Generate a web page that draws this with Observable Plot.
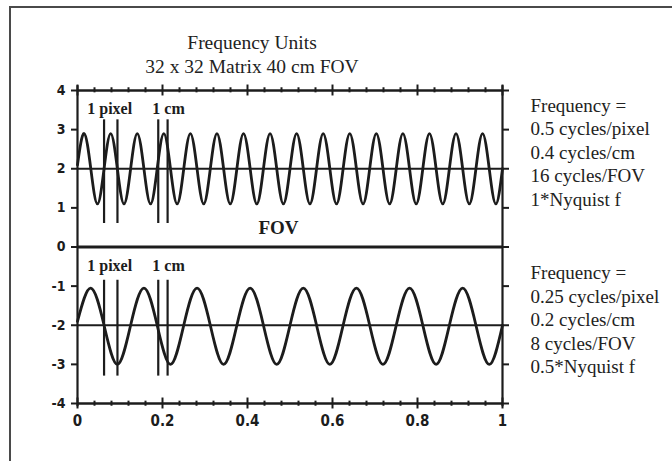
<!DOCTYPE html>
<html>
<head>
<meta charset="utf-8">
<script src="https://cdn.jsdelivr.net/npm/d3@7"></script>
<script src="https://cdn.jsdelivr.net/npm/@observablehq/plot@0.6"></script>
<style>
  html, body { margin: 0; padding: 0; background: #fff; overflow: hidden; }
  #wrap { position: relative; width: 672px; height: 461px; }
  #title { height: 80px; width: 504px; box-sizing: border-box; padding-top: 31px; text-align: center;
           font-family: "Liberation Serif", "Times New Roman", serif; font-size: 19.5px; line-height: 24px; color: #222; }
  #frame { position: absolute; left: 9px; top: 6px; width: 700px; height: 500px; border: 2px solid #4a4a4a; box-sizing: border-box; pointer-events: none; }
  #chart svg { display: block; overflow: visible; }
</style>
</head>
<body>
<div id="wrap">
  <div id="frame"></div>
  <div id="title">Frequency Units<br>32 x 32 Matrix 40 cm FOV</div>
  <div id="chart"></div>
</div>
<script>
// ---- data ----
const titleLines = ["Frequency Units", "32 x 32 Matrix 40 cm FOV"];

// upper signal (16 cycles/FOV), sampled at peaks, crossings and troughs
const upperX = [0, .0156, .0313, .0469, .0625, .0781, .0938, .1094, .125, .1406, .1563, .1719, .1875, .2031, .2188, .2344,
  .25, .2656, .2813, .2969, .3125, .3281, .3438, .3594, .375, .3906, .4063, .4219, .4375, .4531, .4688, .4844,
  .5, .5156, .5313, .5469, .5625, .5781, .5938, .6094, .625, .6406, .6563, .6719, .6875, .7031, .7188, .7344,
  .75, .7656, .7813, .7969, .8125, .8281, .8438, .8594, .875, .8906, .9063, .9219, .9375, .9531, .9688, .9844, 1];
const upperY = [2.1, 2.9, 2, 1.1, 2, 2.9, 2, 1.1, 2, 2.9, 2, 1.1, 2, 2.9, 2, 1.1,
  2, 2.9, 2, 1.1, 2, 2.9, 2, 1.1, 2, 2.9, 2, 1.1, 2, 2.9, 2, 1.1,
  2, 2.9, 2, 1.1, 2, 2.9, 2, 1.1, 2, 2.9, 2, 1.1, 2, 2.9, 2, 1.1,
  2, 2.9, 2, 1.1, 2, 2.9, 2, 1.1, 2, 2.9, 2, 1.1, 2, 2.9, 2, 1.1, 2];

// lower signal (8 cycles/FOV)
const lowerX = [0, .0313, .0625, .0938, .125, .1563, .1875, .2188, .25, .2813, .3125, .3438, .375, .4063, .4375, .4688,
  .5, .5313, .5625, .5938, .625, .6563, .6875, .7188, .75, .7813, .8125, .8438, .875, .9063, .9375, .9688, 1];
const lowerY = [-1.9, -1.05, -2, -3.0, -2, -1.05, -2, -3.0, -2, -1.05, -2, -3.0, -2, -1.05, -2, -3.0,
  -2, -1.05, -2, -3.0, -2, -1.05, -2, -3.0, -2, -1.05, -2, -3.0, -2, -1.05, -2, -3.0, -2];

// "1 pixel" and "1 cm" marker lines
const markerX = [0.0625, 0.094, 0.19, 0.212];
const markerLabels = ["1 pixel", "1 cm"];
const markerLabelX = [0.023, 0.176];

const upperLines = ["Frequency =", "0.5 cycles/pixel", "0.4 cycles/cm", "16 cycles/FOV", "1*Nyquist f"];
const lowerLines = ["Frequency =", "0.25 cycles/pixel", "0.2 cycles/cm", "8 cycles/FOV", "0.5*Nyquist f"];

const xTicks = [0, 0.2, 0.4, 0.6, 0.8, 1];
const xTickLabels = ["0", "0.2", "0.4", "0.6", "0.8", "1"];
const xMinor = [0.04, 0.08, 0.12, 0.16, 0.24, 0.28, 0.32, 0.36, 0.44, 0.48, 0.52, 0.56, 0.64, 0.68, 0.72, 0.76, 0.84, 0.88, 0.92, 0.96];
const yTicks = [-4, -3, -2, -1, 0, 1, 2, 3, 4];
const yTickLabels = ["-4", "-3", "-2", "-1", "0", "1", "2", "3", "4"];

// ---- build ----
const upper = upperX.map((x, i) => ({x, y: upperY[i]}));
const lower = lowerX.map((x, i) => ({x, y: lowerY[i]}));
const ink = "#1c1c1c";
const serif = "Liberation Serif, Times New Roman, serif";
const narrow = "Liberation Sans Narrow, DejaVu Sans Condensed, Liberation Sans, sans-serif";

const chart = Plot.plot({
  width: 672, height: 381,
  marginLeft: 77, marginRight: 170, marginTop: 10, marginBottom: 58,
  x: {domain: [0, 1]},
  y: {domain: [-4, 4]},
  style: {background: "transparent", color: ink, overflow: "visible"},
  marks: [
    Plot.line(upper, {x: "x", y: "y", curve: "natural", stroke: ink, strokeWidth: 2.8}),
    Plot.line(lower, {x: "x", y: "y", curve: "natural", stroke: ink, strokeWidth: 2.8}),
    Plot.ruleY([2, -2], {stroke: ink, strokeWidth: 2}),
    Plot.ruleY([4, -4], {stroke: ink, strokeWidth: 2.4}),
    Plot.ruleY([0], {stroke: ink, strokeWidth: 3}),
    Plot.ruleX([0, 1], {y1: -4.08, y2: 4.12, stroke: ink, strokeWidth: 2.2}),
    Plot.ruleX(xMinor, {y1: 3.94, y2: 4.07, stroke: ink, strokeWidth: 2}),
    Plot.ruleX(xMinor, {y1: -4.07, y2: -3.94, stroke: ink, strokeWidth: 2}),
    Plot.ruleX(xTicks, {y1: 3.86, y2: 4.14, stroke: ink, strokeWidth: 2}),
    Plot.ruleX(xTicks, {y1: -4.14, y2: -3.86, stroke: ink, strokeWidth: 2}),
    Plot.ruleX(markerX, {y1: 0.6, y2: 3.25, stroke: ink, strokeWidth: 2.2}),
    Plot.ruleX(markerX, {y1: -3.3, y2: -0.85, stroke: ink, strokeWidth: 2.2}),
    Plot.text(markerLabels, {x: markerLabelX, y: markerLabelX.map(() => 3.54), text: d => d, textAnchor: "start",
      fontFamily: serif, fontWeight: "bold", fontSize: 16, fill: ink}),
    Plot.text(markerLabels, {x: markerLabelX, y: markerLabelX.map(() => -0.49), text: d => d, textAnchor: "start",
      fontFamily: serif, fontWeight: "bold", fontSize: 16, fill: ink}),
    Plot.text(["FOV"], {x: [0.473], y: [0.49], text: d => d, fontFamily: serif, fontWeight: "bold", fontSize: 19, fill: ink}),
    Plot.axisY(yTicks, {anchor: "left", tickSize: 6, tickPadding: 6, strokeWidth: 2,
      tickFormat: (d, i) => yTickLabels[yTicks.indexOf(d)], label: null,
      fontFamily: narrow, fontWeight: "bold", fontSize: 14, fill: ink}),
    Plot.axisY(yTicks, {anchor: "right", tickSize: 6, strokeWidth: 2, tickFormat: () => "", label: null}),
    Plot.axisX(xTicks, {anchor: "bottom", tickSize: 0, tickPadding: 12, label: null,
      tickFormat: d => xTickLabels[xTicks.indexOf(d)],
      fontFamily: narrow, fontWeight: "bold", fontSize: 15, fill: ink}),
    Plot.text([upperLines.join("\n")], {frameAnchor: "top-right", dx: 28, dy: 5, textAnchor: "start", lineAnchor: "top",
      lineHeight: 1.23, fontFamily: serif, fontSize: 19, fill: "#222"}),
    Plot.text([lowerLines.join("\n")], {frameAnchor: "top-right", dx: 28, dy: 172, textAnchor: "start", lineAnchor: "top",
      lineHeight: 1.24, fontFamily: serif, fontSize: 19, fill: "#222"})
  ]
});
document.getElementById("title").innerHTML = titleLines.join("<br>");
document.getElementById("chart").appendChild(chart);
</script>
</body>
</html>
